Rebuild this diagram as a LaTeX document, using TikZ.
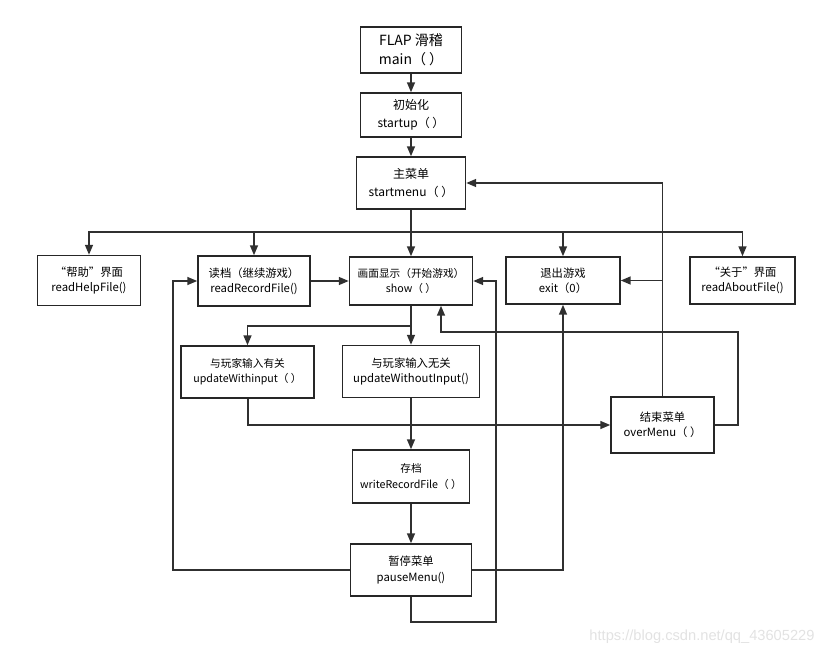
\documentclass[tikz,border=0pt]{standalone}
\usepackage{fontspec}
\setmainfont{Noto Sans CJK SC}
\newfontfamily\markfont{Liberation Sans}
\usetikzlibrary{arrows.meta}
\definecolor{edgegray}{HTML}{303030}
\definecolor{markgray}{HTML}{E2E2E2}

\begin{document}
\begin{tikzpicture}[x=0.75pt,y=0.75pt,yscale=-1,xscale=1,
  box/.style={draw=black!85, line width=1.1pt, align=center, inner sep=1pt, font=\fontsize{8.5}{11.5}\selectfont},
  bigbox/.style={box, font=\fontsize{9}{13}\selectfont},
  arr/.style={draw=edgegray, line width=1.2pt, -{Triangle[length=7.5pt,width=6pt]}},
  wire/.style={draw=edgegray, line width=1.2pt}]
\useasboundingbox (0,0) rectangle (833,655);
%Top column
\node[bigbox, minimum width=75.75pt, minimum height=34.5pt, font=\fontsize{10.5}{14}\selectfont] (main) at (411,50) {FLAP 滑稽\\ main（~）};
\node[bigbox, minimum width=75.75pt, minimum height=33pt] (startup) at (411,115) {初始化\\ startup（~）};
\node[bigbox, minimum width=81.75pt, minimum height=39pt] (menu) at (411,183) {主菜单\\ startmenu（~）};
%Second row
\node[box, minimum width=77.25pt, minimum height=37.5pt] (help) at (89,280.5) {“帮助”界面\\ readHelpFile()};
\node[box, minimum width=84pt, minimum height=37.5pt] (record) at (254,281) {读档（继续游戏）\\ readRecordFile()};
\node[box, minimum width=92.25pt, minimum height=36pt, font=\fontsize{8}{11.5}\selectfont] (show) at (411,281) {画面显示（开始游戏）\\ show（~）};
\node[box, minimum width=85.5pt, minimum height=35.25pt] (exit) at (563,280.5) {退出游戏\\ exit（0）};
\node[box, minimum width=78.75pt, minimum height=35.25pt] (about) at (742.5,280.5) {“关于”界面\\ readAboutFile()};
%Update row
\node[box, minimum width=99.75pt, minimum height=39pt, font=\fontsize{8}{11.5}\selectfont] (withinput) at (247.5,372) {与玩家输入有关\\ updateWithinput（~）};
\node[box, minimum width=102.75pt, minimum height=39pt] (without) at (411,371.5) {与玩家输入无关\\ updateWithoutInput()};
\node[box, minimum width=77.25pt, minimum height=42pt] (over) at (662.5,425) {结束菜单\\ overMenu（~）};
%Bottom column
\node[box, minimum width=87.75pt, minimum height=39.75pt, font=\fontsize{8}{11.5}\selectfont] (write) at (411,476.5) {存档\\ writeRecordFile（~）};
\node[box, minimum width=90.75pt, minimum height=39pt] (pause) at (411,570) {暂停菜单\\ pauseMenu()};
%Watermark
\node[font=\markfont\fontsize{11}{13}\selectfont, text=markgray] (mark) at (702,637) {https://blog.csdn.net/qq\_43605229};

%Helper points
\coordinate (fork) at (411,232);
\coordinate (split) at (411,326);
\coordinate (join) at (411,424);
\coordinate (lft) at (173,570);
\coordinate (low) at (411,622);
\coordinate (rgt) at (496,622);
\coordinate (ovr) at (738,425);
\coordinate (ovu) at (441,332);

%Connectors
\draw[arr] (main) -- (startup);
\draw[arr] (startup) -- (menu);
\draw[arr] (menu) -- (show);
\foreach \n in {help,record,exit,about}
  \draw[arr] (fork) -| (\n);
\draw[arr] (record) -- (show);
\draw[arr] (show) -- (without);
\draw[arr] (split) -| (withinput);
\draw[arr] (withinput) |- (over);
\draw[wire] ([xshift=0.75pt]withinput.south) |- ([yshift=0.75pt]join);
\draw[arr] (without) -- (write);
\draw[arr] (write) -- (pause);
\draw[arr] (pause) -- (lft) |- (record);
\draw[arr] (pause) -| (exit);
\draw[arr] (pause) -- (low) -- (rgt) |- (show);
\draw[arr] (over) |- (menu);
\draw[arr] (over) |- (exit);
\draw[arr] (over) -- (ovr) |- (ovu) -- (ovu |- show.south);
\end{tikzpicture}
\end{document}
